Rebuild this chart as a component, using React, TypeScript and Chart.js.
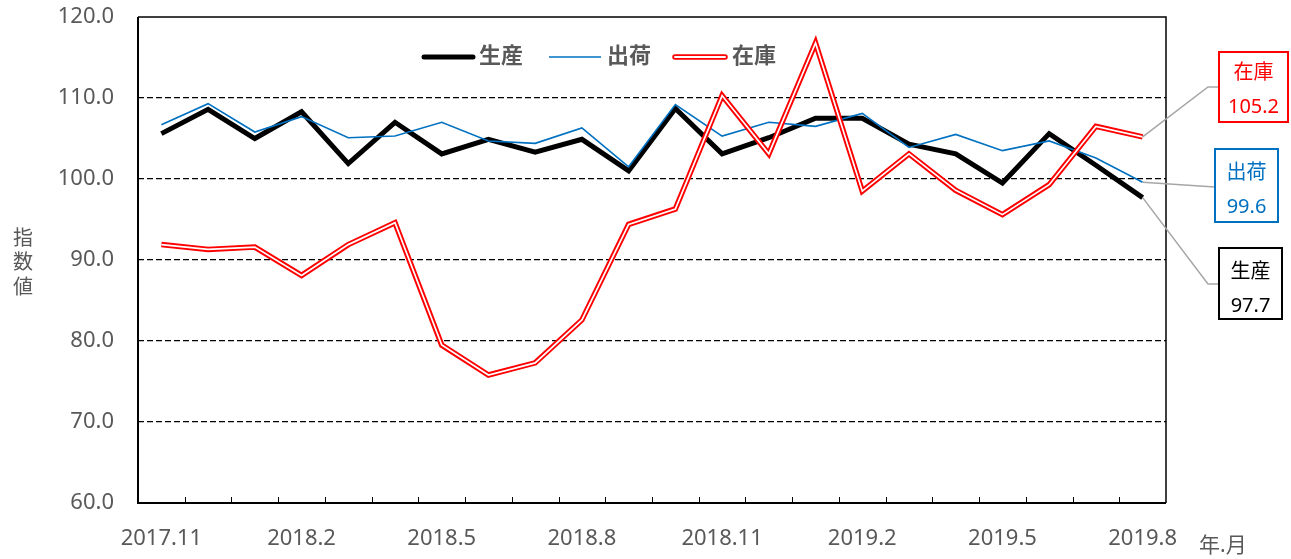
import React, { useEffect, useRef } from "react";
import { Chart, registerables } from "chart.js";

Chart.register(...registerables);

const categories = [
  "2017.11", "2017.12", "2018.1", "2018.2", "2018.3", "2018.4", "2018.5", "2018.6",
  "2018.7", "2018.8", "2018.9", "2018.10", "2018.11", "2018.12", "2019.1", "2019.2",
  "2019.3", "2019.4", "2019.5", "2019.6", "2019.7", "2019.8",
];
const production = [
  105.6, 108.6, 105.0, 108.3, 101.9, 107.0, 103.1, 104.9, 103.3, 104.9, 101.0,
  108.7, 103.1, 105.1, 107.5, 107.5, 104.3, 103.1, 99.5, 105.6, 101.7, 97.7,
];
const shipments = [
  106.7, 109.3, 105.8, 107.7, 105.1, 105.3, 107.0, 104.7, 104.4, 106.3, 101.5,
  109.2, 105.3, 107.0, 106.5, 108.1, 103.9, 105.5, 103.5, 104.7, 102.6, 99.6,
];
const inventory = [
  91.9, 91.3, 91.6, 88.1, 91.9, 94.6, 79.5, 75.8, 77.3, 82.6, 94.4,
  96.3, 110.3, 103.1, 116.8, 98.5, 103.1, 98.6, 95.6, 99.3, 106.5, 105.2,
];
const yTicks = [60, 70, 80, 90, 100, 110, 120];
const seriesNames = ["生産", "出荷", "在庫"];

const GRAY = "#595959";
const FONT = "'Noto Sans', 'Noto Sans CJK JP', sans-serif";
const PLOT_TOP = 17;

export default function App() {
  const ref = useRef<HTMLCanvasElement | null>(null);

  useEffect(() => {
    if (!ref.current) return;

    const overlay = {
      id: "overlay",
      afterDatasetsDraw(chart: any) {
        const ctx = chart.ctx;
        const a = chart.chartArea;
        const xs = chart.scales.x;
        const ys = chart.scales.y;
        ctx.save();
        // plot border
        ctx.strokeStyle = "#000";
        ctx.lineWidth = 1.5;
        ctx.beginPath();
        ctx.moveTo(a.left, a.top);
        ctx.lineTo(a.right, a.top);
        ctx.lineTo(a.right, a.bottom);
        ctx.stroke();
        ctx.lineWidth = 2;
        ctx.beginPath();
        ctx.moveTo(a.left, a.top);
        ctx.lineTo(a.left, a.bottom);
        ctx.lineTo(a.right, a.bottom);
        ctx.stroke();
        // inward tick marks at category boundaries
        ctx.lineWidth = 1;
        for (let i = 1; i < categories.length; i++) {
          const x = Math.round((xs.getPixelForValue(i - 1) + xs.getPixelForValue(i)) / 2) + 0.5;
          ctx.beginPath();
          ctx.moveTo(x, a.bottom);
          ctx.lineTo(x, a.bottom - 6);
          ctx.stroke();
        }
        // legend
        const ly = 57;
        ctx.lineCap = "round";
        ctx.strokeStyle = "#000";
        ctx.lineWidth = 5;
        ctx.beginPath();
        ctx.moveTo(424, ly);
        ctx.lineTo(473, ly);
        ctx.stroke();
        ctx.lineCap = "butt";
        ctx.strokeStyle = "#0070C0";
        ctx.lineWidth = 1.5;
        ctx.beginPath();
        ctx.moveTo(549, ly);
        ctx.lineTo(601, ly);
        ctx.stroke();
        ctx.lineCap = "round";
        ctx.strokeStyle = "#FF0000";
        ctx.lineWidth = 5.5;
        ctx.beginPath();
        ctx.moveTo(675, ly);
        ctx.lineTo(725, ly);
        ctx.stroke();
        ctx.strokeStyle = "#fff";
        ctx.lineWidth = 1.8;
        ctx.beginPath();
        ctx.moveTo(675, ly);
        ctx.lineTo(725, ly);
        ctx.stroke();
        ctx.fillStyle = GRAY;
        ctx.font = `bold 22px ${FONT}`;
        ctx.textBaseline = "middle";
        ctx.textAlign = "left";
        ctx.fillText(seriesNames[0], 479, ly);
        ctx.fillText(seriesNames[1], 607, ly);
        ctx.fillText(seriesNames[2], 732, ly);

        // callouts
        const last = categories.length - 1;
        const px = xs.getPixelForValue(last);
        const callouts = [
          { name: seriesNames[2], v: inventory[last], color: "#FF0000", elbow: [1208, 87], end: [1219, 87], box: [1219, 52, 69, 70], ty: [73, 107] },
          { name: seriesNames[1], v: shipments[last], color: "#0070C0", elbow: null, end: [1215, 187], box: [1215, 149, 63, 73], ty: [173, 207] },
          { name: seriesNames[0], v: production[last], color: "#000000", elbow: [1208, 284], end: [1219, 284], box: [1219, 248, 63, 71], ty: [272, 306] },
        ];
        for (const c of callouts) {
          const py = ys.getPixelForValue(c.v);
          ctx.strokeStyle = "#A6A6A6";
          ctx.lineWidth = 1.5;
          ctx.lineCap = "butt";
          ctx.beginPath();
          ctx.moveTo(px, py);
          if (c.elbow) ctx.lineTo(c.elbow[0], c.elbow[1]);
          ctx.lineTo(c.end[0], c.end[1]);
          ctx.stroke();
          ctx.fillStyle = "#fff";
          ctx.fillRect(c.box[0], c.box[1], c.box[2], c.box[3]);
          ctx.strokeStyle = c.color;
          ctx.lineWidth = 2;
          ctx.strokeRect(c.box[0], c.box[1], c.box[2], c.box[3]);
          ctx.fillStyle = c.color;
          ctx.font = `20px ${FONT}`;
          ctx.textAlign = "center";
          const cx = c.box[0] + c.box[2] / 2;
          ctx.fillText(c.name, cx, c.ty[0]);
          ctx.fillText(c.v.toFixed(1), cx, c.ty[1]);
        }

        // axis titles
        ctx.fillStyle = GRAY;
        ctx.font = `20px ${FONT}`;
        ctx.textAlign = "center";
        const yt = "指数値";
        for (let i = 0; i < yt.length; i++) ctx.fillText(yt[i], 23, 239 + i * 24.5);
        ctx.textAlign = "left";
        ctx.font = `21px ${FONT}`;
        ctx.fillText("年.月", 1199, 546);
        ctx.restore();
      },
    };

    const chart = new Chart(ref.current, {
      type: "line",
      data: {
        labels: categories,
        datasets: [
          { label: "在庫-inner", data: inventory, borderColor: "#ffffff", borderWidth: 1.7, pointRadius: 0, tension: 0, order: 0, borderJoinStyle: "miter" },
          { label: seriesNames[2], data: inventory, borderColor: "#FF0000", borderWidth: 5.5, pointRadius: 0, tension: 0, order: 1, borderJoinStyle: "miter" },
          { label: seriesNames[1], data: shipments, borderColor: "#0070C0", borderWidth: 1.6, pointRadius: 0, tension: 0, order: 2 },
          { label: seriesNames[0], data: production, borderColor: "#000000", borderWidth: 5, pointRadius: 0, tension: 0, order: 3 },
        ],
      },
      options: {
        animation: false,
        responsive: false,
        events: [],
        layout: { padding: { left: 0, top: 0, right: 125, bottom: 0 } },
        plugins: { legend: { display: false }, tooltip: { enabled: false } },
        scales: {
          x: {
            type: "category",
            offset: true,
            grid: { display: false },
            border: { display: false },
            afterFit: (s: any) => { s.height = 56; },
            ticks: {
              autoSkip: false,
              maxRotation: 0,
              padding: 15,
              color: GRAY,
              font: { family: FONT, size: 22 },
              callback: (_v: any, i: number) => (i % 3 === 0 ? categories[i] : ""),
            },
          },
          y: {
            min: 60,
            max: 120,
            afterFit: (s: any) => { s.width = 138; s.paddingTop = 0; },
            afterBuildTicks: (s: any) => { s.ticks = yTicks.map((v) => ({ value: v })); },
            border: { display: false, dash: [6, 3] },
            grid: {
              drawTicks: false,
              color: (c: any) => (c.tick && (c.tick.value === 60 || c.tick.value === 120) ? "rgba(0,0,0,0)" : "#000"),
              lineWidth: 1.3,
            },
            ticks: {
              padding: 24,
              color: GRAY,
              font: { family: FONT, size: 22 },
              callback: (v: any) => Number(v).toFixed(1),
            },
          },
        },
      } as any,
      plugins: [
        overlay,
        {
          id: "fixTop",
          beforeLayout(chart: any) {
            chart.options.layout.padding = { left: 0, top: 0, right: 125, bottom: 0 };
          },
          afterLayout(chart: any) {
            const a = chart.chartArea;
            if (Math.abs(a.top - PLOT_TOP) > 0.1 && !chart.$fixed) {
              chart.$fixed = true;
              chart.$delta = a.top - PLOT_TOP;
            }
          },
        },
      ],
    });
    const delta = (chart as any).$delta || 0;
    if (delta) {
      (chart.options as any).layout.padding = { left: 0, top: -delta, right: 125, bottom: 0 };
      (chart as any).config.plugins = [overlay];
      chart.config.plugins.splice(0);
      chart.config.plugins.push(overlay as any);
      chart.update();
    }
    return () => chart.destroy();
  }, []);

  return (
    <div style={{ position: "absolute", left: 0, top: 0, width: 1291, height: 559, background: "#fff" }}>
      <canvas ref={ref} width={1291} height={559} />
    </div>
  );
}
